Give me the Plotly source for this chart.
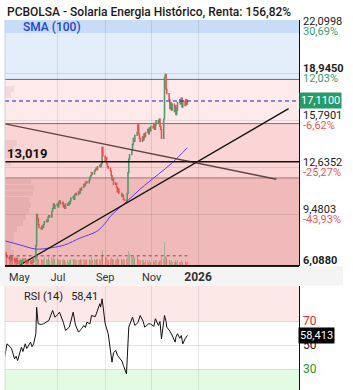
import plotly.graph_objects as go
import pandas as pd

# ---------------- data ----------------
closes = [
    6.8, 6.9, 6.7, 6.6,
    6.5, 6.7, 6.4, 6.6, 6.5,
    6.4, 6.3, 6.5, 6.4, 6.2,
    6.3, 6.4, 6.2, 6.3, 6.5,
    6.4, 6.3, 6.2, 6.4, 6.3,
    6.2, 6.3, 6.4, 6.3, 6.5,
    7.4, 9.5, 9.2, 8.8, 8.6,
    8.5, 8.7, 8.6, 8.8, 9.0,
    9.1, 9.0, 9.3, 9.4, 9.3,
    9.7, 9.9, 10.2, 9.9, 10.1,
    10.2, 10.0, 10.3, 10.4, 10.2,
    10.3, 10.0, 10.1, 9.9, 10.2,
    10.1, 10.3, 10.2, 10.4, 10.6,
    10.7, 10.5, 10.8, 10.9, 10.8,
    11.0, 10.9, 11.2, 11.1, 11.3,
    11.5, 11.4, 11.6, 11.7, 11.6,
    11.8, 12.0, 12.1, 12.3, 12.2,
    12.4, 12.5, 12.6, 12.5, 12.7,
    12.8, 12.7, 12.9, 14.0, 13.4,
    13.1, 13.3, 12.9, 12.7, 12.6,
    12.4, 12.1, 11.8, 11.9, 11.5,
    11.6, 11.3, 11.0, 11.2, 10.9,
    10.9, 10.7, 10.8, 10.5, 10.45,
    10.4, 10.9, 12.3, 13.2, 13.5,
    13.8, 14.2, 14.6, 14.4, 14.8,
    15.0, 15.5, 14.9, 14.6, 14.4,
    14.7, 14.5, 14.9, 14.7, 15.0,
    15.2, 14.9, 15.3, 15.1, 15.4,
    15.3, 15.6, 15.2, 15.5, 15.8,
    15.6, 15.9, 15.4, 15.2, 14.6,
    15.9, 18.7, 18.9, 17.9, 17.6,
    17.2, 16.6, 17.0, 16.5, 16.9,
    16.4, 16.8, 16.2, 16.5, 17.0,
    17.2, 16.9, 17.3, 16.7, 17.1,
    16.8, 17.2, 16.9, 17.11,
]
volumes = [
    8, 10, 6, 5,
    4, 6, 3, 4, 3,
    5, 3, 4, 3, 5,
    3, 4, 2, 3, 4,
    3, 2, 3, 4, 2,
    3, 2, 3, 3, 5,
    9, 12, 6, 4, 3,
    3, 4, 3, 4, 5,
    4, 3, 5, 4, 3,
    5, 4, 6, 3, 4,
    4, 3, 4, 3, 3,
    3, 4, 3, 3, 2,
    3, 2, 3, 3, 4,
    4, 3, 4, 3, 3,
    3, 3, 4, 3, 3,
    4, 3, 3, 4, 3,
    3, 4, 3, 5, 3,
    4, 3, 4, 3, 4,
    4, 3, 5, 10, 7,
    5, 4, 5, 4, 3,
    4, 5, 4, 3, 4,
    3, 4, 5, 3, 4,
    3, 4, 3, 4, 3,
    4, 5, 11, 9, 7,
    6, 5, 6, 4, 5,
    5, 6, 4, 3, 3,
    3, 2, 3, 2, 3,
    3, 2, 3, 2, 2,
    2, 3, 2, 3, 3,
    2, 3, 2, 3, 5,
    4, 15, 6, 5, 4,
    3, 3, 2, 3, 2,
    2, 3, 2, 2, 3,
    2, 2, 3, 2, 2,
    2, 3, 2, 2,
]
avg_volume = 6.0

sma_dates = ["2025-04-22", "2025-05-12", "2025-06-02", "2025-06-20", "2025-07-10",
             "2025-07-30", "2025-08-21", "2025-09-01", "2025-09-08", "2025-09-30",
             "2025-10-17", "2025-11-10", "2025-11-28", "2025-12-18"]
sma_values = [7.72, 7.44, 7.16, 7.23, 7.44, 7.90, 8.35, 8.89, 9.37, 10.38,
              11.19, 12.19, 12.95, 13.97]

rsi_dates = ["2025-04-22", "2025-04-25", "2025-04-29", "2025-05-01", "2025-05-05",
             "2025-05-07", "2025-05-09", "2025-05-14", "2025-05-16", "2025-05-19",
             "2025-05-21", "2025-05-23", "2025-05-26", "2025-05-28", "2025-05-30",
             "2025-06-02", "2025-06-03", "2025-06-05", "2025-06-09", "2025-06-12",
             "2025-06-16", "2025-06-19", "2025-06-24", "2025-06-27", "2025-07-01",
             "2025-07-03", "2025-07-08", "2025-07-11", "2025-07-16", "2025-07-21",
             "2025-07-24", "2025-07-28", "2025-08-01", "2025-08-04", "2025-08-06",
             "2025-08-08", "2025-08-12", "2025-08-14", "2025-08-19", "2025-08-21",
             "2025-08-25", "2025-08-26", "2025-08-28", "2025-09-01", "2025-09-03",
             "2025-09-05", "2025-09-10", "2025-09-12", "2025-09-15", "2025-09-17",
             "2025-09-19", "2025-09-23", "2025-09-25", "2025-09-29", "2025-10-01",
             "2025-10-02", "2025-10-07", "2025-10-10", "2025-10-14", "2025-10-17",
             "2025-10-21", "2025-10-23", "2025-10-28", "2025-10-30", "2025-11-04",
             "2025-11-06", "2025-11-10", "2025-11-12", "2025-11-14", "2025-11-18",
             "2025-11-20", "2025-11-21", "2025-11-25", "2025-11-27", "2025-12-02",
             "2025-12-03", "2025-12-05", "2025-12-08", "2025-12-10", "2025-12-12",
             "2025-12-15", "2025-12-18"]
rsi_values = [40.3, 51.4, 49.0, 47.3, 38.9, 41.0, 37.5, 48.6, 45.0, 51.4,
              47.5, 50.0, 52.8, 49.0, 51.4, 59.8, 81.9, 68.1, 67.5, 68.1,
              70.0, 70.8, 79.2, 73.6, 76.0, 77.8, 69.4, 62.5, 65.3, 77.8,
              67.0, 61.1, 64.0, 66.7, 65.0, 69.4, 68.0, 75.0, 74.0, 77.8,
              84.8, 82.0, 88.9, 68.1, 63.0, 59.8, 36.1, 44.0, 45.8, 42.0,
              40.3, 37.0, 33.3, 26.4, 52.0, 65.3, 73.6, 66.7, 69.0, 75.0,
              70.0, 65.3, 68.0, 68.1, 66.0, 72.3, 66.7, 70.0, 55.6, 75.0,
              70.0, 65.3, 62.0, 59.8, 52.8, 57.0, 59.8, 56.0, 58.3, 51.4,
              55.6, 58.41]

profile_prices = [17.9, 17.5, 14.3, 13.9, 13.5, 12.9, 11.7, 11.3, 10.9, 10.5,
                  10.1, 9.7, 9.3, 8.9, 8.5, 8.1, 7.7, 7.3, 6.9, 6.5, 6.2]
profile_volume = [3, 2, 4, 3, 2, 2, 9, 10, 9.5, 8, 9, 8, 7, 6, 4, 3, 3, 2, 3, 5, 5]

# trend lines (drawn objects)
up_dates, up_values = ["2025-05-12", "2026-04-30"], [6.088, 16.60]
down_dates, down_values = ["2025-04-22 10:00", "2026-04-14"], [15.57, 11.85]
support_level = 13.019

zone_levels = [18.56, 15.59, 11.94]
axis_levels = [22.0998, 18.9450, 15.7901, 12.6352, 9.4803, 6.0880]
axis_texts = ["22,0998", "18,9450", "15,7901", "12,6352", "9,4803", "6,0880"]
pct_texts = ["30,69%", "12,03%", "-6,62%", "-25,27%", "-43,93%", ""]

month_ticks = ["2025-07-01", "2025-09-01", "2025-11-01", "2026-01-01"]
month_labels = ["Jul", "Sep", "Nov", "<b><span style='font-size:12px'>2026</span></b>"]

x_range = ["2025-04-22 10:00", "2026-05-13 16:00"]
y_range = [6.088, 22.553]

# ---------------- derived ----------------
dates = pd.bdate_range("2025-04-22", periods=len(closes))
opens = [closes[0]] + closes[:-1]
highs = [max(o, c) for o, c in zip(opens, closes)]
lows = [min(o, c) for o, c in zip(opens, closes)]
vol_colors = ["rgba(110,165,110,0.55)" if c >= o else "rgba(240,95,95,0.55)"
              for o, c in zip(opens, closes)]

FONT = "Roboto"
W, H = 353, 390
ML, MR, MT, MB = 5, 54, 20, 0
PW, PH = W - ML - MR, H - MT - MB


def py(pix):  # pixel y -> paper y
    return (H - pix) / PH


def px(pix):  # pixel x -> paper x
    return (pix - ML) / PW


fig = go.Figure()

# volume profile
fig.add_trace(go.Bar(y=profile_prices, x=profile_volume, orientation="h",
                     width=0.38, marker=dict(color="rgba(150,70,70,0.10)", line=dict(width=0)),
                     xaxis="x3", yaxis="y", hoverinfo="skip"))

# volume
fig.add_trace(go.Bar(x=dates, y=volumes, marker=dict(color=vol_colors, line=dict(width=0)),
                     width=86400000 * 1.3, xaxis="x", yaxis="y3", hoverinfo="skip"))
fig.add_trace(go.Scatter(x=[dates[0], dates[-1]], y=[avg_volume, avg_volume], mode="lines",
                         line=dict(color="#8a4a4a", width=1, dash="dot"),
                         xaxis="x", yaxis="y3", hoverinfo="skip"))

# candles
fig.add_trace(go.Candlestick(
    x=dates, open=opens, high=highs, low=lows, close=closes,
    increasing=dict(line=dict(color="#4f9a6c", width=1.2), fillcolor="#4f9a6c"),
    decreasing=dict(line=dict(color="#f04e4e", width=1.2), fillcolor="#f04e4e"),
    xaxis="x", yaxis="y", hoverinfo="skip"))

# SMA
fig.add_trace(go.Scatter(x=sma_dates, y=sma_values, mode="lines",
                         line=dict(color="#5a3ee0", width=1, shape="spline"),
                         xaxis="x", yaxis="y", hoverinfo="skip"))

# trend lines
fig.add_trace(go.Scatter(x=up_dates, y=up_values, mode="lines",
                         line=dict(color="#111111", width=1.3), xaxis="x", yaxis="y"))
fig.add_trace(go.Scatter(x=down_dates, y=down_values, mode="lines",
                         line=dict(color="#5e4343", width=1.3), xaxis="x", yaxis="y"))

# RSI
fig.add_trace(go.Scatter(x=rsi_dates, y=rsi_values, mode="lines",
                         line=dict(color="#111111", width=1), xaxis="x2", yaxis="y2",
                         hoverinfo="skip"))

shapes = []
# zone bands
band_bounds = [y_range[1]] + zone_levels + [y_range[0]]
band_colors = ["#e3eefa", "#feeaea", "#fbd5d5", "#f0baba"]
for i, col in enumerate(band_colors):
    shapes.append(dict(type="rect", xref="paper", yref="y", x0=0, x1=1,
                       y0=band_bounds[i + 1], y1=band_bounds[i], fillcolor=col,
                       line=dict(width=0), layer="below"))
zone_line_colors = ["#6a6a6a", "#8e6464", "#a07474"]
for lv, col in zip(zone_levels, zone_line_colors):
    shapes.append(dict(type="line", xref="paper", yref="y", x0=0, x1=1, y0=lv, y1=lv,
                       line=dict(color=col, width=1), layer="below"))
# legend strip
shapes.append(dict(type="rect", xref="paper", yref="paper", x0=0, x1=1,
                   y0=py(33), y1=1, fillcolor="#c6dcf7", line=dict(width=0), layer="below"))
# support line and last price line
shapes.append(dict(type="line", xref="paper", yref="y", x0=0, x1=1, y0=support_level,
                   y1=support_level, line=dict(color="#111111", width=1.5)))
shapes.append(dict(type="line", xref="paper", yref="y", x0=0, x1=1, y0=closes[-1],
                   y1=closes[-1], line=dict(color="#1f1fc0", width=1, dash="4px,3px")))
# label row background
shapes.append(dict(type="rect", xref="paper", yref="paper", x0=px(0), x1=px(343),
                   y0=py(285.5), y1=py(266), fillcolor="#f4f4f4", line=dict(width=0),
                   layer="below"))
shapes.append(dict(type="line", xref="paper", yref="paper", x0=0, x1=1,
                   y0=py(266.5), y1=py(266.5), line=dict(color="#222", width=1),
                   layer="below"))
# RSI bands
shapes.append(dict(type="rect", xref="paper", yref="y2", x0=0, x1=1, y0=70, y1=100,
                   fillcolor="#fde8e8", line=dict(width=0), layer="below"))
shapes.append(dict(type="rect", xref="paper", yref="y2", x0=0, x1=1, y0=0, y1=30,
                   fillcolor="#e2fbe2", line=dict(width=0), layer="below"))
# left edges
shapes.append(dict(type="line", xref="paper", yref="paper", x0=0, x1=0, y0=py(265), y1=1,
                   line=dict(color="#cfcfcf", width=1)))
shapes.append(dict(type="line", xref="paper", yref="paper", x0=0, x1=0, y0=0, y1=py(285.5),
                   line=dict(color="#dddddd", width=1)))

ann = []
ann.append(dict(text="PCBOLSA - Solaria Energia Histórico, Renta: 156,82%", xref="paper",
                yref="paper", x=0, xshift=0, y=py(12), xanchor="left", yanchor="middle",
                showarrow=False, font=dict(family=FONT, size=12, color="#1a1a1a", weight=500)))
ann.append(dict(text="SMA (100)", xref="paper", yref="paper", x=px(21), y=py(27),
                xanchor="left", yanchor="middle", showarrow=False,
                font=dict(family=FONT, size=12, color="#2743d9", weight=500)))
ann.append(dict(text="<b>13,019</b>", xref="paper", yref="y", x=0, xshift=0, y=support_level,
                yshift=-1, xanchor="left", yanchor="bottom", showarrow=False,
                font=dict(family=FONT, size=13, color="#111")))
for lv, t, p in zip(axis_levels, axis_texts, pct_texts):
    bold = t in ("18,9450", "6,0880")
    ann.append(dict(text=f"<b>{t}</b>" if bold else t, xref="paper", yref="y", x=1, xshift=2,
                    y=lv, yshift=5, xanchor="left", yanchor="middle", showarrow=False,
                    font=dict(family=FONT, size=11, color="#222")))
    if p:
        col = "#3a9d6e" if not p.startswith("-") else "#f05555"
        ann.append(dict(text=p, xref="paper", yref="y", x=1, xshift=2, y=lv, yshift=-5,
                        xanchor="left", yanchor="middle", showarrow=False,
                        font=dict(family=FONT, size=11, color=col)))
ann.append(dict(text="17,1100", xref="paper", yref="y", x=1, xshift=0, y=closes[-1],
                xanchor="left", yanchor="middle", showarrow=False, bgcolor="#279a69",
                borderpad=1, font=dict(family=FONT, size=11, color="white")))
ann.append(dict(text="May", xref="x", yref="paper", x="2025-05-01", xshift=-5, y=py(277),
                xanchor="left", yanchor="middle", showarrow=False,
                font=dict(family=FONT, size=11, color="#333")))
# RSI annotations
ann.append(dict(text="RSI (14)   58,41", xref="paper", yref="paper", x=px(22), y=py(296),
                xanchor="left", yanchor="middle", showarrow=False,
                font=dict(family=FONT, size=11, color="#222")))
for v, col in [(70, "#e02828"), (50, "#222"), (30, "#1f9a1f")]:
    ann.append(dict(text=str(v), xref="paper", yref="y2", x=1, xshift=2, y=v,
                    xanchor="left", yanchor="middle", showarrow=False,
                    font=dict(family=FONT, size=12, color=col)))
ann.append(dict(text="58,413", xref="paper", yref="y2", x=1, xshift=-1, y=rsi_values[-1],
                xanchor="left", yanchor="middle", showarrow=False, bgcolor="#000",
                borderpad=1, font=dict(family=FONT, size=11, color="white")))

grid = "rgba(0,0,0,0.09)"
fig.update_layout(
    width=W, height=H, margin=dict(l=ML, r=MR, t=MT, b=MB, pad=0),
    paper_bgcolor="white", plot_bgcolor="rgba(0,0,0,0)", showlegend=False,
    font=dict(family=FONT, size=11, color="#333"),
    shapes=shapes, annotations=ann, bargap=0,
    xaxis=dict(domain=[0, 1], anchor="y", type="date", range=x_range,
               tickvals=month_ticks, ticktext=month_labels, ticks="", showgrid=True,
               gridcolor=grid, showline=True, linecolor="#111", linewidth=1,
               tickfont=dict(family=FONT, size=11, color="#333"), ticklabelstandoff=2,
               rangeslider=dict(visible=False), zeroline=False, fixedrange=True),
    xaxis2=dict(domain=[0, 1], anchor="y2", type="date", range=x_range, matches="x",
                tickvals=month_ticks, showticklabels=False, ticks="", showgrid=True,
                gridcolor=grid, zeroline=False, rangeslider=dict(visible=False)),
    xaxis3=dict(overlaying="x", anchor="y", range=[0, 100], visible=False,
                showgrid=False, zeroline=False),
    yaxis=dict(domain=[py(265), 1], anchor="x", side="right", range=y_range,
               tickvals=axis_levels[1:5], showticklabels=False, ticks="",
               showgrid=True, gridcolor=grid, showline=True, linecolor="#111",
               linewidth=1, zeroline=False, fixedrange=True),
    yaxis2=dict(domain=[0, py(285.5)], anchor="x2", side="right", range=[12.9, 100],
                tickvals=[30, 50, 70], showticklabels=False, ticks="", showgrid=True,
                gridcolor="rgba(0,0,0,0.1)", showline=True, linecolor="#111",
                linewidth=1, zeroline=False),
    yaxis3=dict(overlaying="y", range=[0, 160], visible=False, showgrid=False,
                zeroline=False),
)

fig.write_html("out.html")
